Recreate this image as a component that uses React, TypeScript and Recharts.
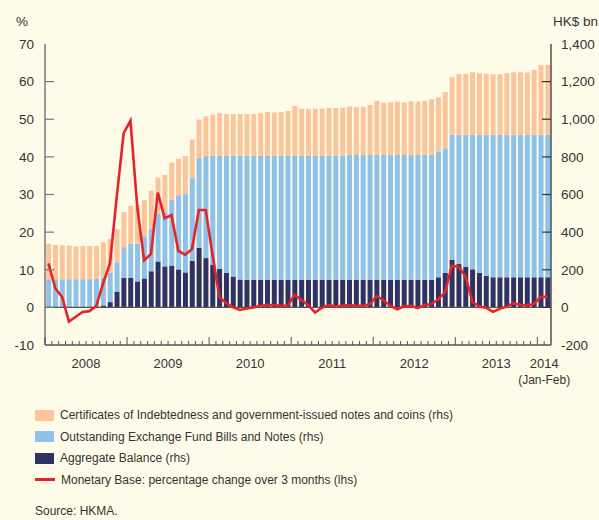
import React from "react";
import { ComposedChart, Bar, Line, XAxis, YAxis, ReferenceLine } from "recharts";

const years = [2008, 2009, 2010, 2011, 2012, 2013, 2014];
const monthsIn2014 = 2;

// HK$ bn, monthly Jan 2008 - Feb 2014
const aggregateBalance = [
  2, 2, 2, 2, 2, 2, 2, 2, 10, 28, 84, 156,
  156, 138, 154, 192, 244, 218, 222, 202, 186, 248, 316, 262,
  226, 204, 184, 164, 148, 146, 146, 146, 146, 146, 146, 146,
  146, 146, 146, 146, 146, 146, 146, 146, 146, 146, 146, 146,
  146, 146, 146, 146, 146, 146, 146, 146, 146, 160, 184, 252,
  230, 216, 202, 184, 168, 160, 160, 160, 160, 160, 160, 160,
  160, 160,
];
const exchangeFundPaper = [
  148, 148, 148, 148, 148, 148, 148, 150, 148, 156, 156, 164,
  182, 200, 224, 228, 254, 288, 352, 394, 416, 442, 478, 542,
  580, 602, 622, 642, 658, 660, 660, 660, 660, 660, 660, 660,
  660, 660, 660, 660, 660, 660, 662, 662, 664, 664, 664, 664,
  664, 664, 664, 664, 664, 664, 664, 664, 664, 666, 662, 665,
  687, 701, 715, 733, 749, 757, 757, 757, 757, 757, 757, 757,
  757, 757,
];
const certificates = [
  188, 182, 180, 178, 174, 176, 176, 174, 188, 180, 176, 186,
  202, 206, 192, 200, 192, 198, 196, 194, 202, 202, 204, 212,
  218, 226, 222, 222, 222, 222, 222, 226, 232, 230, 232, 238,
  264, 250, 248, 250, 250, 254, 252, 254, 258, 254, 256, 266,
  288, 278, 280, 284, 279, 286, 284, 288, 296, 291, 298, 306,
  324, 324, 333, 328, 324, 322, 322, 328, 333, 333, 331, 345,
  372, 372,
];
// Monetary Base: % change over 3 months
const monetaryBaseChange = [
  11.7, 5.1, 2.8, -3.8, -2.5, -1.2, -1.0, 0.4, 6.4, 11.7, 29.5, 46.3,
  49.6, 26.5, 12.5, 14.2, 30.5, 23.7, 24.5, 15.0, 14.0, 15.5, 25.9, 25.9,
  14.0, 2.8, 1.1, 0.0, -0.7, -0.3, 0.0, 0.4, 0.6, 0.6, 0.4, 0.5,
  3.3, 2.0, 0.6, -1.4, -0.1, 0.6, 0.2, 0.4, 0.6, 0.4, 0.4, 0.8,
  3.0, 1.9, 0.4, -0.5, 0.2, 0.4, -0.2, 0.6, 0.9, 2.1, 4.0, 11.0,
  10.8, 8.2, 1.5, 0.2, -0.1, -1.2, -0.4, 0.2, 1.1, 0.7, 0.5, 0.9,
  2.8, 2.8,
];

const leftTicks = [-10, 0, 10, 20, 30, 40, 50, 60, 70];
const rightTicks = [-200, 0, 200, 400, 600, 800, 1000, 1200, 1400];

const legendItems = [
  { label: "Certificates of Indebtedness and government-issued notes and coins (rhs)", color: "#FCC49A", kind: "box" },
  { label: "Outstanding Exchange Fund Bills and Notes (rhs)", color: "#8EC2EA", kind: "box" },
  { label: "Aggregate Balance (rhs)", color: "#2E3264", kind: "box" },
  { label: "Monetary Base: percentage change over 3 months (lhs)", color: "#E52329", kind: "line" },
];

const months: { year: number; month: number }[] = [];
years.forEach((y) => {
  const n = y === 2014 ? monthsIn2014 : 12;
  for (let m = 1; m <= n; m++) months.push({ year: y, month: m });
});

const data = months.map((d, i) => ({
  m: `${d.year}-${d.month}`,
  year: d.year,
  month: d.month,
  ab: aggregateBalance[i],
  ef: exchangeFundPaper[i],
  ci: certificates[i],
  mb: monetaryBaseChange[i],
}));

const FONT = '"Liberation Sans", Arial, Helvetica, sans-serif';
const TEXT = "#333";
const PLOT_LEFT = 45;
const PLOT_RIGHT = 551;
const SLOT = (PLOT_RIGHT - PLOT_LEFT) / data.length;

const LeftTick = (props: any) => {
  const { x, y, payload } = props;
  const v = payload.value;
  return (
    <g>
      {v !== 70 && v !== -10 && (
        <line x1={PLOT_LEFT} x2={PLOT_LEFT + 9} y1={y} y2={y} stroke="#777" strokeWidth={1.2} />
      )}
      <text x={x} y={y} dy="0.36em" textAnchor="end" fill={TEXT} fontSize={13.5} fontFamily={FONT}>
        {v}
      </text>
    </g>
  );
};

const RightTick = (props: any) => {
  const { x, y, payload } = props;
  const v = payload.value;
  return (
    <g>
      {v !== 1400 && v !== -200 && (
        <line x1={PLOT_RIGHT - 9} x2={PLOT_RIGHT} y1={y} y2={y} stroke="#333" strokeWidth={1.2} />
      )}
      <text x={x} y={y} dy="0.36em" textAnchor="start" fill={TEXT} fontSize={13.5} fontFamily={FONT}>
        {v.toLocaleString("en-US")}
      </text>
    </g>
  );
};

const MonthTick = (props: any) => {
  const { x, y, payload } = props;
  const row = data.find((d) => d.m === payload.value);
  if (!row) return null;
  const edge = x + SLOT / 2;
  const isYearEnd = row.month === 12;
  return (
    <g>
      {row.year === 2008 && row.month === 1 && (
        <line x1={x - SLOT / 2} x2={x - SLOT / 2} y1={y} y2={y - 8} stroke="#555" strokeWidth={1.2} />
      )}
      {!(row.year === 2014 && row.month === monthsIn2014) && (
        <line x1={edge} x2={edge} y1={y} y2={y - (isYearEnd ? 8 : 4)} stroke="#555" strokeWidth={1} />
      )}
      {row.month === 6 && (
        <text x={edge} y={y + 23} textAnchor="middle" fill={TEXT} fontSize={13} fontFamily={FONT}>
          {row.year}
        </text>
      )}
      {row.year === 2014 && row.month === 1 && (
        <>
          <text x={edge} y={y + 23} textAnchor="middle" fill={TEXT} fontSize={13} fontFamily={FONT}>
            {row.year}
          </text>
          <text x={edge} y={y + 39} textAnchor="middle" fill={TEXT} fontSize={12} fontFamily={FONT}>
            (Jan-Feb)
          </text>
        </>
      )}
    </g>
  );
};

export default function App() {
  return (
    <div
      style={{
        position: "absolute",
        left: 0,
        top: 0,
        width: 599,
        height: 520,
        background: "#FFFBE9",
        fontFamily: FONT,
        color: TEXT,
        overflow: "hidden",
      }}
    >
      <div style={{ position: "absolute", left: 16, top: 14, fontSize: 13.5 }}>%</div>
      <div style={{ position: "absolute", right: 1, top: 14, fontSize: 13.5 }}>HK$ bn</div>

      <div style={{ position: "absolute", left: 0, top: 0 }}>
        <ComposedChart
          width={599}
          height={400}
          data={data}
          margin={{ top: 44, right: 0, bottom: 15, left: 0 }}
          barCategoryGap="17%"
        >
          <XAxis
            dataKey="m"
            xAxisId={0}
            interval={0}
            tickLine={false}
            tickSize={0}
            tickMargin={0}
            height={40}
            axisLine={{ stroke: "#555", strokeWidth: 1.3 }}
            tick={<MonthTick />}
          />
          <YAxis
            yAxisId="pct"
            orientation="left"
            width={45}
            domain={[-10, 70]}
            ticks={leftTicks}
            interval={0}
            tickLine={false}
            tickSize={0}
            tickMargin={11}
            axisLine={{ stroke: "#777", strokeWidth: 1.5 }}
            tick={<LeftTick />}
          />
          <YAxis
            yAxisId="bn"
            orientation="right"
            width={48}
            domain={[-200, 1400]}
            ticks={rightTicks}
            interval={0}
            tickLine={false}
            tickSize={0}
            tickMargin={10}
            axisLine={{ stroke: "#333", strokeWidth: 1.3 }}
            tick={<RightTick />}
          />
          <Bar yAxisId="bn" dataKey="ab" stackId="mb" fill="#2E3264" isAnimationActive={false} />
          <Bar yAxisId="bn" dataKey="ef" stackId="mb" fill="#8EC2EA" isAnimationActive={false} />
          <Bar yAxisId="bn" dataKey="ci" stackId="mb" fill="#FCC49A" isAnimationActive={false} />
          <ReferenceLine yAxisId="pct" y={0} stroke="#555" strokeWidth={1.3} />
          <Line
            yAxisId="pct"
            dataKey="mb"
            type="linear"
            stroke="#E52329"
            strokeWidth={2.6}
            dot={false}
            activeDot={false}
            isAnimationActive={false}
          />
        </ComposedChart>
      </div>

      {legendItems.map((item, i) => (
        <div
          key={item.label}
          style={{
            position: "absolute",
            left: 35,
            top: 405 + i * 21.5,
            height: 20,
            display: "flex",
            alignItems: "center",
            fontSize: 12,
          }}
        >
          {item.kind === "box" ? (
            <div style={{ width: 19, height: 11, background: item.color }} />
          ) : (
            <div style={{ width: 20, height: 2.5, background: item.color }} />
          )}
          <span style={{ marginLeft: 6 }}>{item.label}</span>
        </div>
      ))}
      <div style={{ position: "absolute", left: 35, top: 504, fontSize: 12 }}>Source: HKMA.</div>
    </div>
  );
}
